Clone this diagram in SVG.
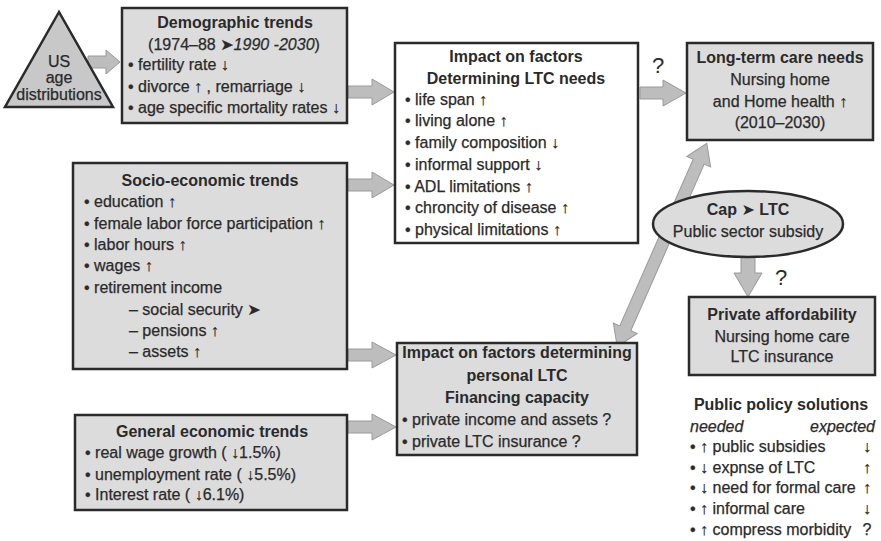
<svg xmlns="http://www.w3.org/2000/svg" width="881" height="541" viewBox="0 0 881 541">
<style>
.box{fill:#dcdcdc;stroke:#2a2a2a;stroke-width:2.5}
.wbox{fill:#ffffff;stroke:#2a2a2a;stroke-width:2.5}
.t{font-family:"Liberation Sans",Arial,"DejaVu Sans",sans-serif;font-size:16px;fill:#2a2a2a;stroke:#2a2a2a;stroke-width:0.25}
.b{font-weight:bold;stroke-width:0}
.c{text-anchor:middle}
.e{text-anchor:end}
.i{font-style:italic}
.q{font-size:22px;stroke-width:0}
.arr{fill:#bdbdbd;stroke:#9a9a9a;stroke-width:1}
</style>
<rect width="881" height="541" fill="#ffffff"/>

<g id="connectors">
  <path class="arr" d="M88 56 L106 56 L106 50 L120 62 L106 74 L106 68 L88 68 Z"/>
  <path class="arr" d="M348 86 L372 86 L372 79 L394 92 L372 105 L372 98 L348 98 Z"/>
  <path class="arr" d="M348 179 L372 179 L372 172 L394 185 L372 198 L372 191 L348 191 Z"/>
  <path class="arr" d="M348 349 L372 349 L372 342 L396 355 L372 368 L372 361 L348 361 Z"/>
  <path class="arr" d="M348 421 L372 421 L372 414 L396 427 L372 440 L372 433 L348 433 Z"/>
  <path class="arr" d="M640 87 L663 87 L663 80 L686 93 L663 106 L663 99 L640 99 Z"/>
  <path class="arr" d="M741 255 L755 255 L755 273 L762 273 L748 297 L734 273 L741 273 Z"/>
  <g transform="translate(662,245) rotate(-66.2)">
    <polygon class="arr" points="-111,0 -91,-13 -91,-6 91,-6 91,-13 111,0 91,13 91,6 -91,6 -91,13"/>
  </g>
  <text class="t q c" x="658" y="73">?</text>
  <text class="t q c" x="781" y="285">?</text>
</g>

<g id="us-age">
  <polygon points="59,12 5,107 113,107" fill="#c8c8c8" stroke="#2a2a2a" stroke-width="2.5"/>
  <text class="t c" x="59" y="67">US</text>
  <text class="t c" x="59" y="83">age</text>
  <text class="t c" x="59" y="100">distributions</text>
</g>

<g id="demographic">
  <rect class="box" x="122" y="8" width="225" height="115"/>
  <text class="t b c" x="235" y="28">Demographic trends</text>
  <text class="t c" x="234" y="50">(1974–88 ➤<tspan class="i">1990 -2030</tspan>)</text>
  <text class="t" x="128" y="70">• fertility rate ↓</text>
  <text class="t" x="128" y="92">• divorce ↑ , remarriage ↓</text>
  <text class="t" x="128" y="113">• age specific mortality rates ↓</text>
</g>

<g id="impact-needs">
  <rect class="wbox" x="395" y="43" width="243" height="200"/>
  <text class="t b c" x="516" y="62">Impact on factors</text>
  <text class="t b c" x="516" y="84">Determining LTC needs</text>
  <text class="t" x="405" y="105">• life span ↑</text>
  <text class="t" x="405" y="126">• living alone ↑</text>
  <text class="t" x="405" y="148">• family composition ↓</text>
  <text class="t" x="405" y="170">• informal support ↓</text>
  <text class="t" x="405" y="192">• ADL limitations ↑</text>
  <text class="t" x="405" y="213">• chroncity of disease ↑</text>
  <text class="t" x="405" y="235">• physical limitations ↑</text>
</g>

<g id="ltc-needs">
  <rect class="box" x="687" y="43" width="186" height="97"/>
  <text class="t b c" x="780" y="63">Long-term care needs</text>
  <text class="t c" x="780" y="85">Nursing home</text>
  <text class="t c" x="780" y="107">and Home health ↑</text>
  <text class="t c" x="780" y="128">(2010–2030)</text>
</g>

<g id="socio-economic">
  <rect class="box" x="73" y="163" width="274" height="206"/>
  <text class="t b c" x="210" y="186">Socio-economic trends</text>
  <text class="t" x="84" y="207">• education ↑</text>
  <text class="t" x="84" y="229">• female labor force participation ↑</text>
  <text class="t" x="84" y="250">• labor hours ↑</text>
  <text class="t" x="84" y="271">• wages ↑</text>
  <text class="t" x="84" y="293">• retirement income</text>
  <text class="t" x="129" y="315">– social security ➤</text>
  <text class="t" x="129" y="336">– pensions ↑</text>
  <text class="t" x="129" y="357">– assets ↑</text>
</g>

<g id="cap-ltc">
  <ellipse cx="748" cy="224" rx="95" ry="33" fill="#dcdcdc" stroke="#2a2a2a" stroke-width="2.5"/>
  <text class="t b c" x="748" y="215">Cap ➤ LTC</text>
  <text class="t c" x="748" y="237">Public sector subsidy</text>
</g>

<g id="private-affordability">
  <rect class="box" x="689" y="297" width="186" height="78"/>
  <text class="t b c" x="782" y="320">Private affordability</text>
  <text class="t c" x="782" y="342">Nursing home care</text>
  <text class="t c" x="782" y="362">LTC insurance</text>
</g>

<g id="impact-financing">
  <rect class="box" x="397" y="343" width="240" height="112"/>
  <text class="t b c" x="517" y="358">Impact on factors determining</text>
  <text class="t b c" x="517" y="381">personal LTC</text>
  <text class="t b c" x="517" y="403">Financing capacity</text>
  <text class="t" x="402" y="425">• private income and assets ?</text>
  <text class="t" x="402" y="447">• private LTC insurance ?</text>
</g>

<g id="general-economic">
  <rect class="box" x="75" y="415" width="272" height="95"/>
  <text class="t b c" x="212" y="437">General economic trends</text>
  <text class="t" x="85" y="458">• real wage growth ( ↓1.5%)</text>
  <text class="t" x="85" y="480">• unemployment rate ( ↓5.5%)</text>
  <text class="t" x="85" y="500">• Interest rate ( ↓6.1%)</text>
</g>

<g id="public-policy">
  <text class="t b c" x="781" y="410">Public policy solutions</text>
  <text class="t i" x="690" y="432">needed</text>
  <text class="t i e" x="875" y="432">expected</text>
  <text class="t" x="690" y="452">• ↑ public subsidies</text>
  <text class="t" x="690" y="473">• ↓ expnse of LTC</text>
  <text class="t" x="690" y="493">• ↓ need for formal care</text>
  <text class="t" x="690" y="514">• ↑ informal care</text>
  <text class="t" x="690" y="535">• ↑ compress morbidity</text>
  <text class="t c" x="867" y="452">↓</text>
  <text class="t c" x="867" y="473">↑</text>
  <text class="t c" x="867" y="493">↑</text>
  <text class="t c" x="867" y="514">↓</text>
  <text class="t c" x="867" y="535">?</text>
</g>
</svg>
